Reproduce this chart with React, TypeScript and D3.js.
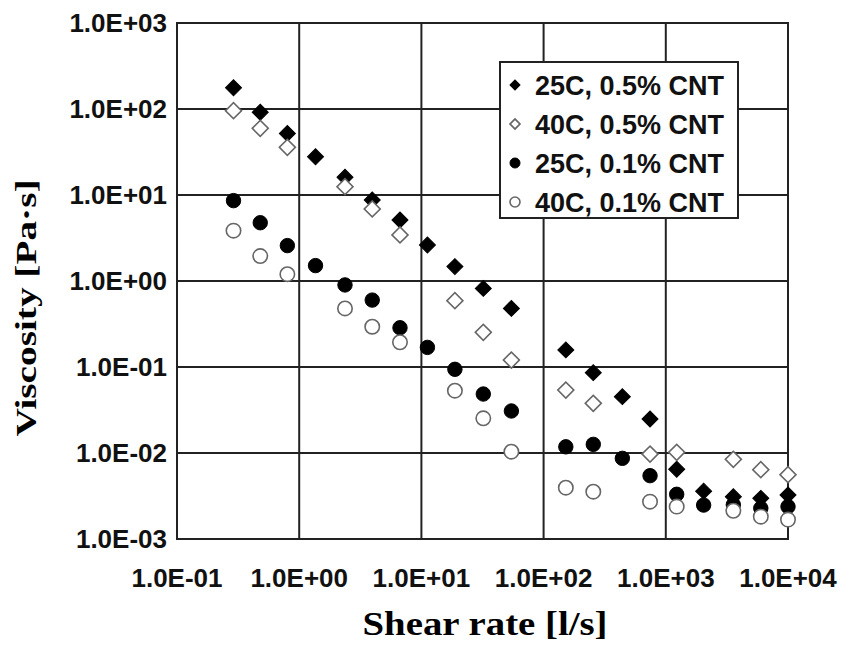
import React, { useRef, useEffect } from 'react';
import * as d3 from 'd3';

// shear rates [1/s]
const shearRates = [
  0.29, 0.48, 0.8, 1.36, 2.37, 3.96, 6.68, 11.2, 18.8, 32.1, 54.5, 152, 255, 441, 743,
  1228, 2040, 3570, 5990, 10000,
];

// viscosity [Pa·s], null where the picture shows no point
const visc25_05 = [
  177, 91.6, 52, 27.9, 16.1, 8.75, 5.12, 2.62, 1.47, 0.82, 0.48, 0.158, 0.086, 0.0452, 0.0248,
  0.00646, 0.0036, 0.0031, 0.00297, 0.00325,
];
const visc40_05 = [
  95.6, 59.7, 35.9, null, 12.5, 6.88, 3.43, null, 0.59, 0.253, 0.1205, 0.054, 0.0378, null,
  0.00973, 0.0102, null, 0.00844, 0.0064, 0.0056,
];
const visc25_01 = [
  8.6, 4.76, 2.58, 1.51, 0.9, 0.6, 0.286, 0.169, 0.094, 0.0485, 0.0308, 0.0118, 0.0126,
  0.00867, 0.00545, 0.00331, 0.00248, 0.0025, 0.00228, 0.00238,
];
const visc40_01 = [
  3.85, 1.95, 1.2, null, 0.48, 0.294, 0.194, null, 0.053, 0.0253, 0.01035, 0.00395, 0.00355,
  null, 0.00272, 0.00238, null, 0.00213, 0.00182, 0.00168,
];

const xTicks = [0.1, 1, 10, 100, 1000, 10000];
const yTicks = [1e-3, 1e-2, 1e-1, 1, 10, 100, 1000];
const tickLabel = (v: number) => {
  const e = Math.round(Math.log10(v));
  return `1.0E${e < 0 ? '-' : '+'}${String(Math.abs(e)).padStart(2, '0')}`;
};

const series = [
  { name: '25C, 0.5% CNT', values: visc25_05, shape: 'diamond', filled: true },
  { name: '40C, 0.5% CNT', values: visc40_05, shape: 'diamond', filled: false },
  { name: '25C, 0.1% CNT', values: visc25_01, shape: 'circle', filled: true },
  { name: '40C, 0.1% CNT', values: visc40_01, shape: 'circle', filled: false },
];

function ViscosityChart() {
  const svgRef = useRef<SVGSVGElement>(null);

  useEffect(() => {
    const width = 845;
    const height = 646;
    const margin = { left: 177, right: 57, top: 23, bottom: 107 };
    const svg = d3.select(svgRef.current).attr('width', width).attr('height', height);
    svg.selectAll('*').remove();

    const x = d3
      .scaleLog()
      .domain([0.1, 10000])
      .range([margin.left, width - margin.right]);
    const y = d3
      .scaleLog()
      .domain([1e-3, 1e3])
      .range([height - margin.bottom, margin.top]);

    const sans = "'Liberation Sans', Arial, sans-serif";
    const serif = "'Liberation Serif', 'Times New Roman', serif";
    const lineColor = '#222';

    // grid
    svg
      .selectAll('.vgrid')
      .data(xTicks)
      .join('line')
      .attr('x1', (d) => x(d))
      .attr('x2', (d) => x(d))
      .attr('y1', y(1e-3))
      .attr('y2', y(1e3))
      .attr('stroke', lineColor)
      .attr('stroke-width', 2);
    svg
      .selectAll('.hgrid')
      .data(yTicks)
      .join('line')
      .attr('x1', x(0.1))
      .attr('x2', x(10000))
      .attr('y1', (d) => y(d))
      .attr('y2', (d) => y(d))
      .attr('stroke', lineColor)
      .attr('stroke-width', 2);
    svg
      .append('rect')
      .attr('x', x(0.1))
      .attr('y', y(1e3))
      .attr('width', x(10000) - x(0.1))
      .attr('height', y(1e-3) - y(1e3))
      .attr('fill', 'none')
      .attr('stroke', lineColor)
      .attr('stroke-width', 2);

    // tick labels
    svg
      .selectAll('.xlab')
      .data(xTicks)
      .join('text')
      .attr('x', (d) => x(d))
      .attr('y', 587)
      .attr('text-anchor', 'middle')
      .attr('font-family', sans)
      .attr('font-weight', 'bold')
      .attr('font-size', 26)
      .attr('fill', '#111')
      .text((d) => tickLabel(d));
    svg
      .selectAll('.ylab')
      .data(yTicks)
      .join('text')
      .attr('x', 167)
      .attr('y', (d) => y(d) + 9)
      .attr('text-anchor', 'end')
      .attr('font-family', sans)
      .attr('font-weight', 'bold')
      .attr('font-size', 26)
      .attr('fill', '#111')
      .text((d) => tickLabel(d));

    // axis titles
    svg
      .append('text')
      .attr('x', 485)
      .attr('y', 635)
      .attr('text-anchor', 'middle')
      .attr('font-family', serif)
      .attr('font-weight', 'bold')
      .attr('font-size', 34)
      .attr('textLength', 245)
      .attr('lengthAdjust', 'spacingAndGlyphs')
      .text('Shear rate [l/s]');
    svg
      .append('text')
      .attr('transform', 'translate(36,308) rotate(-90)')
      .attr('text-anchor', 'middle')
      .attr('font-family', serif)
      .attr('font-weight', 'bold')
      .attr('font-size', 30)
      .attr('textLength', 257)
      .attr('lengthAdjust', 'spacingAndGlyphs')
      .text('Viscosity [Pa·s]');

    const diamond = d3.symbol(d3.symbolSquare, 128)();
    const smallDiamond = d3.symbol(d3.symbolSquare, 50)();

    const drawMarker = (
      g: d3.Selection<SVGGElement, unknown, null, undefined>,
      s: (typeof series)[number],
      cx: number,
      cy: number,
      small: boolean
    ) => {
      const fill = s.filled ? '#000' : '#fff';
      const stroke = s.filled ? '#000' : '#666';
      if (s.shape === 'diamond') {
        g.append('path')
          .attr('d', small ? smallDiamond : diamond)
          .attr('transform', `translate(${cx},${cy}) rotate(45)`)
          .attr('fill', fill)
          .attr('stroke', stroke)
          .attr('stroke-width', s.filled ? 1 : 1.6);
      } else {
        g.append('circle')
          .attr('cx', cx)
          .attr('cy', cy)
          .attr('r', small ? 5 : 7.2)
          .attr('fill', fill)
          .attr('stroke', stroke)
          .attr('stroke-width', s.filled ? 1 : 1.6);
      }
    };

    // points
    const pts = svg.append('g');
    series.forEach((s) => {
      s.values.forEach((v, i) => {
        if (v == null) return;
        drawMarker(pts, s, x(shearRates[i]), y(v), false);
      });
    });

    // legend
    const lg = svg.append('g');
    lg.append('rect')
      .attr('x', 500)
      .attr('y', 62)
      .attr('width', 238)
      .attr('height', 156)
      .attr('fill', '#fff')
      .attr('stroke', lineColor)
      .attr('stroke-width', 2);
    series.forEach((s, i) => {
      const cy = 85 + i * 39;
      drawMarker(lg, s, 515, cy, true);
      lg.append('text')
        .attr('x', 535)
        .attr('y', cy + 10)
        .attr('font-family', sans)
        .attr('font-weight', 'bold')
        .attr('font-size', 27)
        .attr('fill', '#111')
        .text(s.name);
    });
  }, []);

  return <svg ref={svgRef} style={{ position: 'absolute', left: 0, top: 0 }} />;
}

export default function App() {
  return <ViscosityChart />;
}
